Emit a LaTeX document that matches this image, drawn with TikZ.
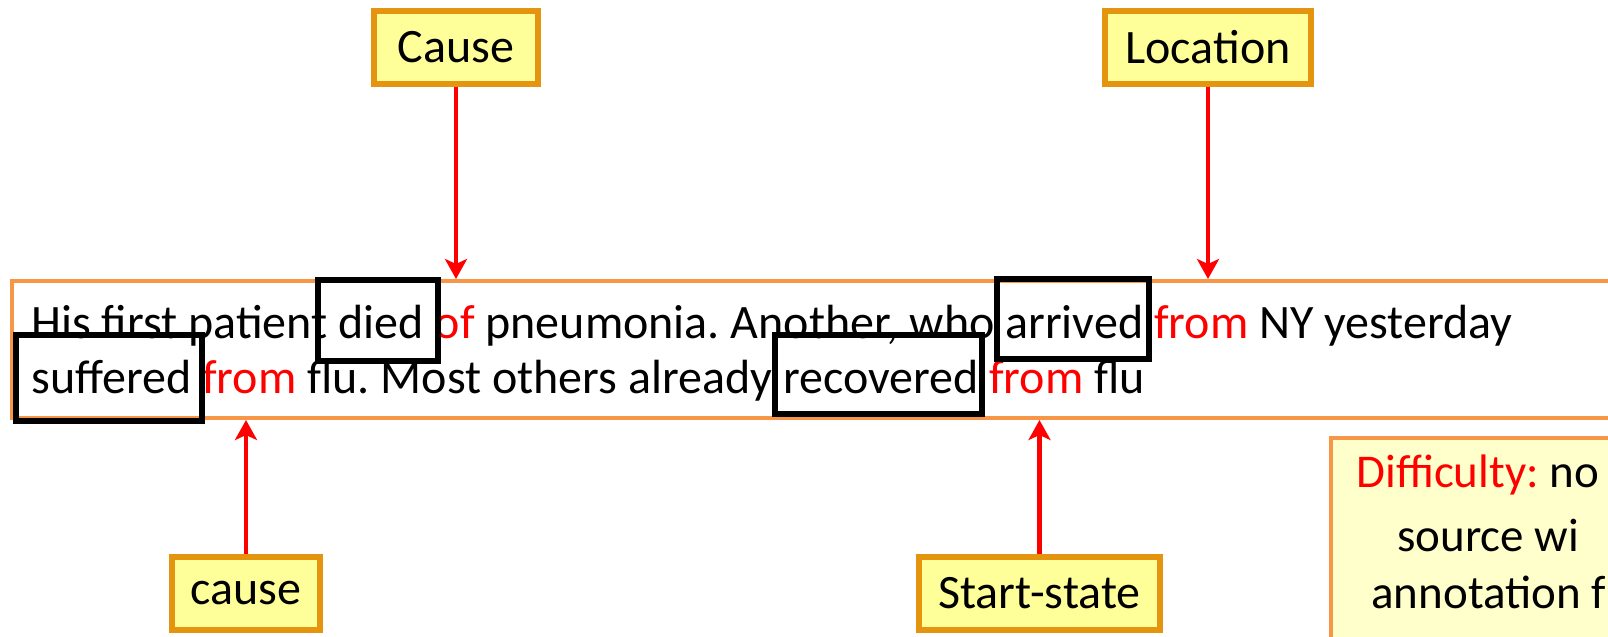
\documentclass[tikz,border=0pt]{standalone}
\usepackage{fontspec}
\setmainfont{Carlito}
\usepackage{tikz}
\usetikzlibrary{arrows.meta,positioning,shadows}
\definecolor{Tag}{HTML}{E4940F}
\definecolor{TagFill}{HTML}{FFFF99}
\definecolor{Frame}{HTML}{F79646}
\definecolor{NoteFill}{HTML}{FFFFCC}
\definecolor{Hot}{HTML}{FF0000}
\frenchspacing

\begin{document}
\begin{tikzpicture}[x=0.5pt,y=-0.5pt,
  tag/.style={draw=Tag,fill=TagFill,line width=3pt,minimum height=36.5pt,inner sep=0pt,
    font=\fontsize{24}{28}\selectfont,drop shadow={opacity=0.3,shadow xshift=1pt,shadow yshift=-1.5pt}},
  wordbox/.style={draw=black,line width=3pt},
  link/.style={Hot,line width=2.2pt,-{Stealth[length=10pt,width=11pt,inset=2.5pt]}},
  sent/.style={anchor=base west,inner sep=0pt,font=\fontsize{24}{28}\selectfont},
  note/.style={anchor=base west,inner sep=0pt,font=\fontsize{23.5}{28}\selectfont}]
  \clip (0,0) rectangle (1608,637);
  \fill[white] (0,0) rectangle (1608,637);
  \node (frame) [draw=Frame,line width=2pt,anchor=north west,minimum width=810pt,minimum height=68.5pt] at (10,279) {};
  \node (line1) [sent] at (31,338) {His first patient died \textcolor{Hot}{of} pneumonia. Another, who arrived \textcolor{Hot}{from} NY yesterday};
  \node (line2) [sent] at (31,393) {suffered \textcolor{Hot}{from} flu. Most others already recovered \textcolor{Hot}{from} flu};
  \foreach \xa/\ya/\xb/\yb in {318/280/438/361, 997/279/1149/359, 16/335/202/421, 775/335/982/414} {
    \draw[wordbox] (\xa,\ya) rectangle (\xb,\yb);
  }
  \node (Cause) [tag,minimum width=82pt] at (456,47.5) {Cause};
  \node (Location) [tag,minimum width=103pt] at (1208,47.5) {Location};
  \node (cause) [tag,minimum width=74pt] at (246,593.5) {cause};
  \node (start) [tag,minimum width=120.5pt] at (1039.5,593.5) {Start-state};
  \draw[link] (Cause.south) -- (Cause.south |- frame.north);
  \draw[link] (Location.south) -- (Location.south |- frame.north);
  \draw[link] (cause.north) -- (cause.north |- frame.south);
  \draw[link] (start.north) -- (start.north |- frame.south);
  \node (hard) [draw=Frame,fill=NoteFill,line width=2pt,anchor=north west,minimum width=160pt,minimum height=120pt] at (1329,436) {};
  \node (diff1) [note] at (1356,487) {\textcolor{Hot}{Difficulty:} no};
  \node (diff2) [note] at (1397,551) {source wi};
  \node (diff3) [note] at (1371,608) {annotation f};
\end{tikzpicture}
\end{document}
